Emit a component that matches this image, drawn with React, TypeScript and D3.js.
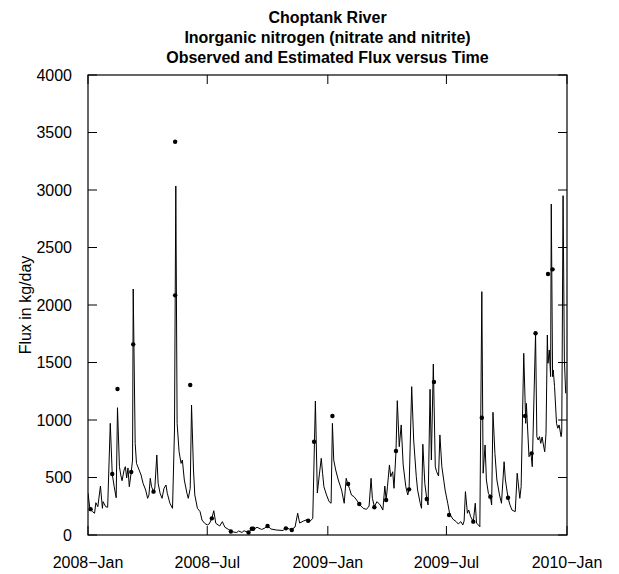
import React from "react";
import * as d3 from "d3";

const titleLines = [
  "Choptank River",
  "Inorganic nitrogen (nitrate and nitrite)",
  "Observed and Estimated Flux versus Time",
];
const yLabel = "Flux in kg/day";
const yTicks = [0, 500, 1000, 1500, 2000, 2500, 3000, 3500, 4000];
const xTickDates = ["2008-01-01", "2008-07-01", "2009-01-01", "2009-07-01", "2010-01-01"];
const xTickLabels = ["2008\u2212Jan", "2008\u2212Jul", "2009\u2212Jan", "2009\u2212Jul", "2010\u2212Jan"];
const startDate = "2008-01-01";
const endDate = "2010-01-01";

// Estimated daily flux (days since 2008-01-01, kg/day)
const estDays = [0,3,7,10,12,15,19,22,23,27,30,34,37,40,43,45,48,50,52,55,57,59,61,63,66,68,69,72,74,78,81,84,88,91,93,95,97,100,102,105,107,110,113,116,119,121,125,129,132,134,136,139,142,144,147,151,153,156,158,161,163,167,171,174,178,182,185,189,192,195,201,205,209,214,218,222,227,230,235,238,245,250,255,258,265,270,274,279,288,298,302,307,311,316,320,323,329,335,339,343,345,347,350,353,356,358,360,364,368,371,373,375,378,382,387,391,394,396,399,402,406,410,415,420,425,429,432,434,437,441,446,450,453,455,457,460,462,465,467,470,472,475,478,481,485,488,490,494,497,501,503,507,509,511,514,517,519,522,524,527,530,532,535,537,540,545,549,552,557,562,565,569,572,574,576,579,581,584,588,591,593,596,598,601,603,606,608,611,614,616,618,621,624,628,631,635,637,641,644,647,652,655,659,661,665,668,669,673,676,678,683,685,687,689,691,693,695,697,699,701,702,704,706,707,709,710,712,715,717,719,722,723,725,727,729];
const estFlux = [363,223,203,189,281,246,426,232,290,246,241,971,530,420,324,1107,594,522,472,565,594,496,583,420,548,652,2139,797,623,565,522,450,391,319,348,493,420,377,409,696,450,363,319,406,435,363,276,232,913,3035,971,724,623,652,478,363,319,406,1130,565,348,232,203,130,102,87,96,145,211,102,78,116,67,50,35,26,22,35,22,37,22,55,57,67,48,61,83,52,43,39,65,52,48,70,189,104,122,135,122,143,652,1165,365,522,667,537,420,348,290,276,971,652,565,478,391,276,493,452,406,348,333,304,261,232,223,252,493,319,248,290,261,217,426,304,420,609,507,550,406,724,1168,768,957,609,420,348,400,1290,826,507,391,276,232,789,450,313,261,1267,652,1487,594,550,513,870,594,391,276,183,137,116,96,116,87,122,377,189,217,159,116,276,102,87,72,2116,537,783,478,363,333,261,1067,710,478,348,276,637,478,324,261,217,203,537,319,420,1580,971,1145,681,710,594,1754,855,826,855,797,852,783,724,884,1739,1493,1609,1377,2878,1377,1435,1290,971,928,957,855,896,2951,1522,1232];

// Observed samples
const obsDays = [4,37,45,66,69,100,133,133,156,189,218,245,250,252,274,302,311,336,345,373,397,414,437,455,470,490,517,528,551,588,601,614,641,667,677,683,702,709];
const obsFlux = [225,530,1270,548,1658,377,3420,2084,1304,145,30,22,55,55,78,58,43,124,811,1035,443,270,241,304,730,397,313,1330,174,116,1020,333,324,1035,710,1754,2270,2310];

const W = 619;
const H = 574;
const margin = { left: 88, right: 52, top: 75, bottom: 39 };
const font = "'Liberation Sans', Arial, Helvetica, sans-serif";

export default function App() {
  const parse = d3.utcParse("%Y-%m-%d");
  const t0 = parse(startDate)!;
  const x = d3
    .scaleUtc()
    .domain([t0, parse(endDate)!])
    .range([margin.left, W - margin.right]);
  const y = d3
    .scaleLinear()
    .domain([0, 4000])
    .range([H - margin.bottom, margin.top]);

  const est = estDays.map((d, i) => ({ date: d3.utcDay.offset(t0, d), v: estFlux[i] }));
  const obs = obsDays.map((d, i) => ({ date: d3.utcDay.offset(t0, d), v: obsFlux[i] }));

  const line = d3
    .line<{ date: Date; v: number }>()
    .x((d) => x(d.date))
    .y((d) => y(d.v));

  const x0 = margin.left;
  const x1 = W - margin.right;
  const y0 = H - margin.bottom;
  const y1 = margin.top;
  const tick = 9;
  const cx = (x0 + x1) / 2;

  return (
    <svg
      width={W}
      height={H}
      style={{ position: "absolute", left: 0, top: 0, background: "#fff" }}
      fontFamily={font}
    >
      <rect x={0} y={0} width={W} height={H} fill="#fff" />
      {titleLines.map((t, i) => (
        <text key={i} x={cx} y={23 + i * 20} textAnchor="middle" fontSize={16} fontWeight="bold" fill="#000">
          {t}
        </text>
      ))}
      <clipPath id="plotclip">
        <rect x={x0} y={y1} width={x1 - x0} height={y0 - y1} />
      </clipPath>
      <path d={line(est) || ""} fill="none" stroke="#000" strokeWidth={1} clipPath="url(#plotclip)" />
      {obs.map((d, i) => (
        <circle key={i} cx={x(d.date)} cy={y(d.v)} r={2.2} fill="#000" />
      ))}
      <rect x={x0} y={y1} width={x1 - x0} height={y0 - y1} fill="none" stroke="#000" strokeWidth={1.2} />
      {yTicks.map((v) => (
        <g key={v}>
          <line x1={x0} x2={x0 + tick} y1={y(v)} y2={y(v)} stroke="#000" strokeWidth={1} />
          <line x1={x1} x2={x1 - tick} y1={y(v)} y2={y(v)} stroke="#000" strokeWidth={1} />
          <text x={x0 - 16} y={y(v)} dy="0.36em" textAnchor="end" fontSize={16} fill="#000">
            {v}
          </text>
        </g>
      ))}
      {xTickDates.map((s, i) => {
        const xv = x(parse(s)!);
        return (
          <g key={s}>
            <line x1={xv} x2={xv} y1={y0} y2={y0 - tick} stroke="#000" strokeWidth={1} />
            <line x1={xv} x2={xv} y1={y1} y2={y1 + tick} stroke="#000" strokeWidth={1} />
            <text x={xv} y={y0 + 33} textAnchor="middle" fontSize={16} fill="#000">
              {xTickLabels[i]}
            </text>
          </g>
        );
      })}
      <text
        transform={`translate(31,${(y0 + y1) / 2}) rotate(-90)`}
        textAnchor="middle"
        fontSize={16}
        fill="#000"
      >
        {yLabel}
      </text>
    </svg>
  );
}
